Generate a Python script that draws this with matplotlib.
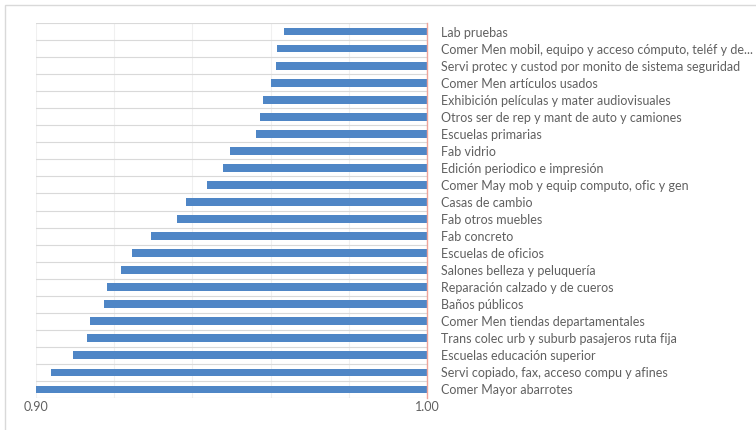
import numpy as np
import matplotlib.pyplot as plt
from matplotlib.patches import Rectangle

# categories listed top to bottom as in the chart
categories = [
    'Lab pruebas',
    'Comer Men mobil, equipo y acceso cómputo, teléf y de...',
    'Servi protec y custod por monito de sistema seguridad',
    'Comer Men artículos usados',
    'Exhibición películas y mater audiovisuales',
    'Otros ser de rep y mant de auto y camiones',
    'Escuelas primarias',
    'Fab vidrio',
    'Edición periodico e impresión',
    'Comer May mob y equip computo, ofic y gen',
    'Casas de cambio',
    'Fab otros muebles',
    'Fab concreto',
    'Escuelas de oficios',
    'Salones belleza y peluquería',
    'Reparación calzado y de cueros',
    'Baños públicos',
    'Comer Men tiendas departamentales',
    'Trans colec urb y suburb pasajeros ruta fija',
    'Escuelas educación superior',
    'Servi copiado, fax, acceso compu y afines',
    'Comer Mayor abarrotes',
]
values = [0.9634, 0.9616, 0.9614, 0.9600, 0.9581, 0.9574, 0.9562,
          0.9496, 0.9477, 0.9438, 0.9384, 0.9360, 0.9293, 0.9245,
          0.9217, 0.9182, 0.9174, 0.9138, 0.9130, 0.9094, 0.9038, 0.9000]
x_ticks = [0.90, 1.00]
x_labels = ['0.90', '1.00']


def main():
    plt.rcParams['font.family'] = ['Lato', 'DejaVu Sans']
    text_col = '#606060'

    fig = plt.figure(figsize=(7.56, 4.30), dpi=100)
    fig.patches.append(Rectangle((5 / 756, -0.1), 1.2, 1 - 5 / 430 + 0.1,
                                 transform=fig.transFigure, fill=False,
                                 edgecolor='#d9d9d9', linewidth=1))
    ax = fig.add_axes([36 / 756, 1 - 398 / 430, (427 - 36) / 756, (398 - 23) / 430])

    n = len(categories)
    pos = np.arange(n)[::-1]
    vals = np.array(values)
    ax.barh(pos, vals - 1.0, left=1.0, height=0.46, color='#4F86C6', zorder=3)

    ax.set_xlim(0.90, 1.00)
    ax.set_ylim(-0.5, n - 0.5)

    ax.set_xticks(x_ticks)
    ax.set_xticklabels(x_labels)
    ax.set_xticks(np.arange(0.92, 1.0, 0.02), minor=True)
    ax.tick_params(axis='x', which='both', length=0, pad=2, labelsize=9, labelcolor=text_col)

    ax.yaxis.tick_right()
    ax.set_yticks(pos)
    ax.set_yticklabels(categories, ha='left')
    ax.set_yticks(np.arange(-0.5, n, 1.0), minor=True)
    ax.tick_params(axis='y', which='both', length=0, pad=10, labelsize=9, labelcolor=text_col)

    ax.grid(True, axis='y', which='minor', color='#d9d9d9', linewidth=0.8, zorder=0)
    ax.grid(True, axis='x', which='both', color='#f0f0f0', linewidth=0.8, zorder=0)

    for side in ['top', 'left', 'bottom']:
        ax.spines[side].set_visible(False)
    ax.spines['right'].set_color('#f0a49a')
    ax.spines['right'].set_linewidth(1.0)
    ax.spines['right'].set_zorder(4)

    plt.savefig('out.png', dpi=100)


if __name__ == '__main__':
    main()
